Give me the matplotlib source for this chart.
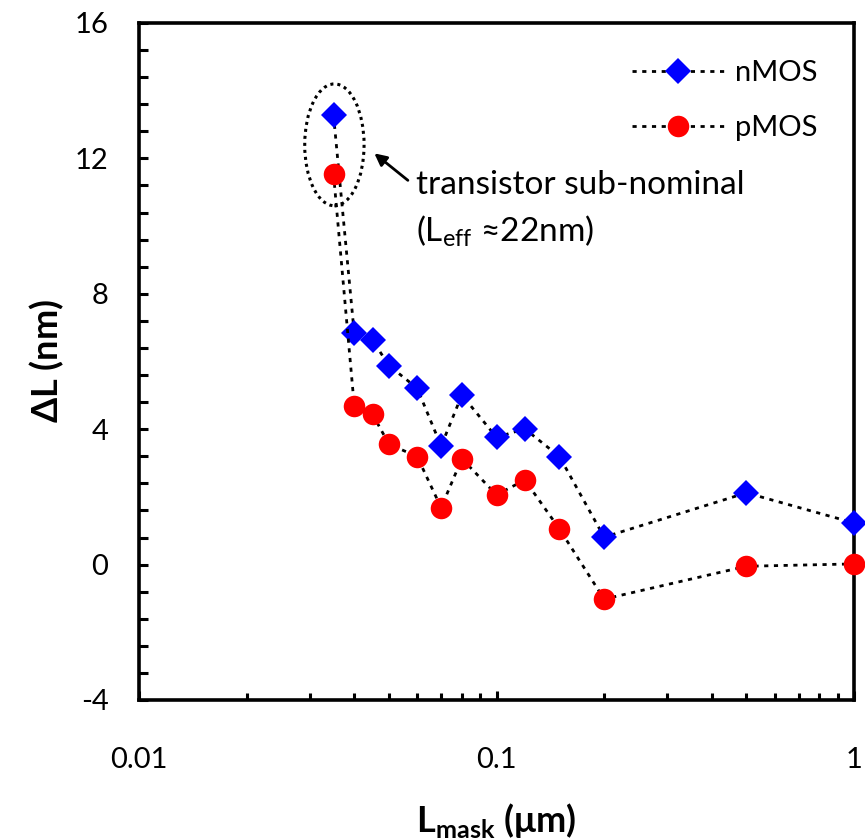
import numpy as np
import matplotlib.pyplot as plt
from matplotlib.patches import Ellipse
from matplotlib.ticker import FixedLocator, NullFormatter

plt.rcParams['font.family'] = ['Lato', 'DejaVu Sans']
plt.rcParams['mathtext.fontset'] = 'custom'
plt.rcParams['mathtext.rm'] = 'Lato'
plt.rcParams['mathtext.bf'] = 'Lato:bold'
plt.rcParams['axes.unicode_minus'] = False

# mask length (um) and measured delta L (nm)
lmask = [0.035, 0.04, 0.045, 0.05, 0.06, 0.07, 0.08, 0.1, 0.12, 0.15, 0.2, 0.5, 1.0]
dl_nmos = [13.28, 6.83, 6.63, 5.88, 5.21, 3.50, 5.01, 3.76, 4.01, 3.19, 0.81, 2.12, 1.23]
dl_pmos = [11.54, 4.69, 4.44, 3.56, 3.19, 1.68, 3.13, 2.06, 2.50, 1.05, -1.02, -0.05, 0.02]

yticks = [-4, 0, 4, 8, 12, 16]
xticks = [0.01, 0.1, 1]
xtick_labels = ['0.01', '0.1', '1']

fig = plt.figure(figsize=(8.65, 8.39), dpi=100)
ax = fig.add_axes([0.1607, 0.1657, 0.8266, 0.8069])

dot = (0, (1.5, 2.0))
ax.plot(lmask, dl_nmos, color='black', linestyle=dot, linewidth=2.0,
        marker='D', markersize=13.5, markerfacecolor='#0000ff',
        markeredgecolor='#0000ff', markeredgewidth=0, label='nMOS', clip_on=False, zorder=3)
ax.plot(lmask, dl_pmos, color='black', linestyle=dot, linewidth=2.0,
        marker='o', markersize=15.5, markerfacecolor='#ff0000',
        markeredgecolor='#ff0000', markeredgewidth=0, label='pMOS', clip_on=False, zorder=3)

ax.set_xscale('log')
ax.set_xlim(0.01, 1)
ax.set_ylim(-4, 16)
ax.set_xticks(xticks)
ax.set_xticklabels(xtick_labels)
ax.xaxis.set_minor_locator(FixedLocator(
    [m * d for d in (0.01, 0.1) for m in range(2, 10)]))
ax.xaxis.set_minor_formatter(NullFormatter())
ax.set_yticks(yticks)
ax.yaxis.set_minor_locator(FixedLocator(np.arange(-4, 16.01, 0.8)))

for s in ax.spines.values():
    s.set_linewidth(2.6)
ax.tick_params(axis='both', which='both', direction='in', width=2.2,
               top=False, right=False)
ax.tick_params(axis='y', which='both', length=6.5, pad=22, labelsize=21)
ax.tick_params(axis='x', which='major', length=6.5, pad=34, labelsize=21)
ax.tick_params(axis='x', which='minor', length=5)

ax.set_ylabel(r'$\mathbf{\Delta}$L (nm)', fontsize=26, fontweight='bold', labelpad=6)
ax.set_xlabel(r'L$_{\mathbf{mask}}$ (μm)', fontsize=26, fontweight='bold', labelpad=20)

leg = ax.legend(loc='upper right', frameon=False, fontsize=21, handlelength=3.2,
                handletextpad=0.35, labelspacing=1.0, borderaxespad=0.3,
                bbox_to_anchor=(0.978, 0.975))

# dotted ring around the sub-nominal transistor
ax.figure.canvas.draw()
cx, cy = ax.transAxes.inverted().transform(ax.transData.transform((0.0352, 12.4)))
ax.add_patch(Ellipse((cx, cy), 0.083, 0.18, transform=ax.transAxes, fill=False,
                     edgecolor='black', linestyle=(0, (1, 1.3)), linewidth=2.2))

ax.annotate('', xy=(0.0449, 12.2), xytext=(0.0573, 11.3),
            arrowprops=dict(arrowstyle='-|>', color='black', lw=2, mutation_scale=18))
ax.text(0.0594, 11.2, 'transistor sub-nominal', fontsize=24, va='center', ha='left')
ax.text(0.0594, 9.85, r'(L$_{\mathrm{eff}}$ ≈22nm)', fontsize=24, va='center', ha='left')

fig.savefig('out.png', dpi=100)
